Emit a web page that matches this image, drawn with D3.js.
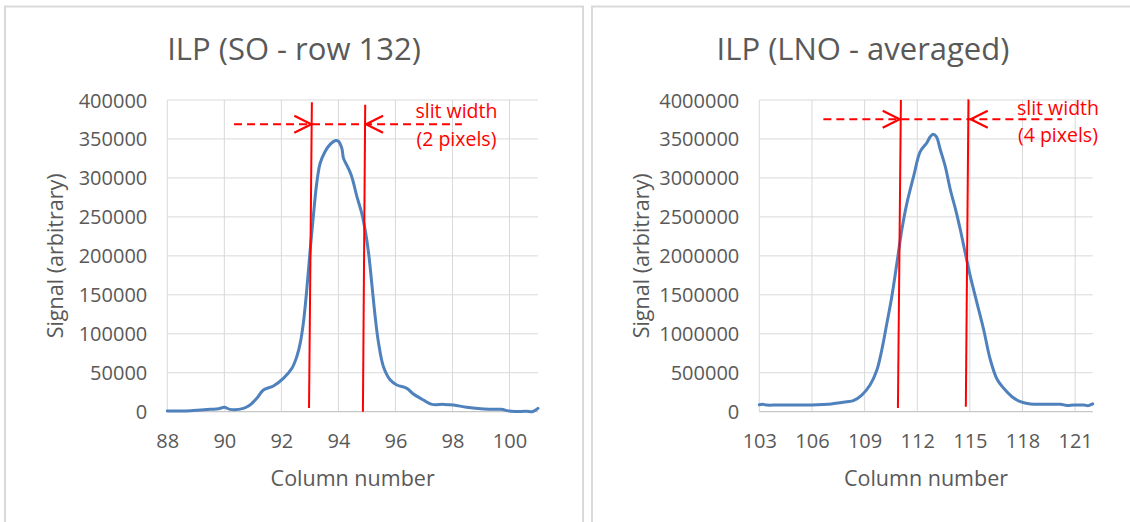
<!DOCTYPE html>
<html>
<head>
<meta charset="utf-8">
<script src="https://cdn.jsdelivr.net/npm/d3@7"></script>
<style>
  html, body { margin: 0; padding: 0; background: #fff; }
  svg { display: block; }
  text { font-family: "Open Sans", sans-serif; }
</style>
</head>
<body>
<svg id="chart" width="1130" height="522"></svg>
<script>
// ---------------- Data ----------------
// Left chart: SO - row 132
const soTitle = "ILP (SO - row 132)";
const soColumn = [88.0, 88.5, 88.9, 89.5, 89.8, 90.0, 90.2, 90.67, 90.9, 91.14, 91.37, 91.72, 92.07, 92.37, 92.54, 92.66, 92.77, 92.89, 93.01, 93.12, 93.24, 93.36, 93.53, 93.71, 93.88, 94.0, 94.12, 94.18, 94.35, 94.47, 94.65, 94.82, 94.94, 95.06, 95.17, 95.29, 95.41, 95.58, 95.82, 96.05, 96.4, 96.63, 96.98, 97.28, 97.69, 98.04, 98.5, 99.1, 99.7, 100.05, 100.6, 100.8, 101.0];
const soSignal = [1000, 800, 1500, 3000, 3800, 5600, 3000, 4300, 8600, 17200, 27800, 33000, 42800, 55700, 70600, 87700, 113400, 156200, 207500, 250200, 293100, 318800, 333600, 343100, 347800, 347000, 338000, 325100, 312300, 301500, 275900, 254600, 233100, 203200, 164800, 121900, 87700, 57700, 40700, 34300, 30000, 22700, 15000, 9400, 9400, 8600, 5600, 3400, 3000, 500, 500, 0, 4300];
const soXTicks = [88, 90, 92, 94, 96, 98, 100];
const soYTicks = [0, 50000, 100000, 150000, 200000, 250000, 300000, 350000, 400000];
const soSlitTop = [93.07, 94.94];      // column of slit lines at the top
const soSlitBottom = [92.97, 94.86];   // column of slit lines at the bottom
const soSlitLabel = ["slit width", "(2 pixels)"];

// Right chart: LNO - averaged
const lnoTitle = "ILP (LNO - averaged)";
const lnoColumn = [103.0, 103.2, 103.4, 104.0, 105.1, 106.0, 106.65, 107.1, 107.6, 108.0, 108.36, 108.84, 109.31, 109.7, 109.98, 110.27, 110.55, 110.84, 111.12, 111.41, 111.79, 112.17, 112.55, 112.74, 112.9, 113.09, 113.32, 113.6, 113.89, 114.17, 114.46, 114.74, 115.03, 115.41, 115.79, 116.17, 116.55, 116.93, 117.4, 117.88, 118.45, 119.4, 120.16, 120.54, 120.92, 121.5, 121.75, 122.0];
const lnoSignal = [90000, 95000, 86000, 85000, 85000, 85000, 92000, 100000, 115000, 128000, 141000, 214000, 342600, 535000, 791800, 1134000, 1475800, 1904000, 2331800, 2674000, 3015800, 3336600, 3452000, 3529000, 3560000, 3529000, 3358000, 3144000, 2845000, 2610000, 2331800, 2032700, 1732500, 1391000, 1048500, 663500, 415800, 300300, 192500, 128300, 98800, 95000, 95000, 80000, 86000, 86000, 78000, 100000];
const lnoXTicks = [103, 106, 109, 112, 115, 118, 121];
const lnoYTicks = [0, 500000, 1000000, 1500000, 2000000, 2500000, 3000000, 3500000, 4000000];
const lnoSlitTop = [111.07, 114.92];
const lnoSlitBottom = [110.9, 114.77];
const lnoSlitLabel = ["slit width", "(4 pixels)"];

const xAxisTitle = "Column number";
const yAxisTitle = "Signal (arbitrary)";

// ---------------- Drawing ----------------
const svg = d3.select("#chart");
const TEXT = "#595959", GRID = "#d9d9d9", BLUE = "#4f81bd", RED = "#ff0000";

function drawChart(cfg) {
  const g = svg.append("g");
  // panel border
  g.append("rect")
    .attr("x", cfg.panel[0]).attr("y", 6.5)
    .attr("width", cfg.panel[1] - cfg.panel[0]).attr("height", 540)
    .attr("fill", "#fff").attr("stroke", "#d9d9d9").attr("stroke-width", 2);

  const x = d3.scaleLinear().domain(cfg.xDomain).range([cfg.plot[0], cfg.plot[1]]);
  const y = d3.scaleLinear().domain(cfg.yDomain).range([411.7, 100]);

  // title
  g.append("text")
    .attr("x", (cfg.panel[0] + cfg.panel[1]) / 2).attr("y", 60)
    .attr("text-anchor", "middle").attr("fill", TEXT)
    .style("font-size", "31px").text(cfg.title);

  // horizontal gridlines
  g.append("g").selectAll("line").data(cfg.yTicks.filter(d => d > 0)).join("line")
    .attr("x1", x(cfg.xDomain[0])).attr("x2", x(cfg.xDomain[1]))
    .attr("y1", d => y(d)).attr("y2", d => y(d))
    .attr("stroke", GRID).attr("stroke-width", 1);
  // vertical gridlines
  g.append("g").selectAll("line").data(cfg.xTicks).join("line")
    .attr("x1", d => x(d)).attr("x2", d => x(d))
    .attr("y1", y(cfg.yDomain[1])).attr("y2", y(0))
    .attr("stroke", GRID).attr("stroke-width", 1);
  // bottom axis line
  g.append("line")
    .attr("x1", x(cfg.xDomain[0])).attr("x2", x(cfg.xDomain[1]))
    .attr("y1", y(0)).attr("y2", y(0))
    .attr("stroke", "#c6c6c6").attr("stroke-width", 1.2);

  // y tick labels
  const yAxis = d3.axisLeft(y).tickValues(cfg.yTicks).tickSize(0).tickPadding(20).tickFormat(d3.format("d"));
  const ya = g.append("g").attr("transform", `translate(${x(cfg.xDomain[0])},0)`).call(yAxis);
  ya.select(".domain").remove();
  ya.selectAll("text").attr("fill", TEXT).style("font-size", "20px")
    .style("font-family", "'Open Sans', sans-serif").attr("dy", "0.35em");

  // x tick labels
  const xAxis = d3.axisBottom(x).tickValues(cfg.xTicks).tickSize(0).tickPadding(0).tickFormat(d3.format("d"));
  const xa = g.append("g").attr("transform", `translate(0,${y(0)})`).call(xAxis);
  xa.select(".domain").remove();
  xa.selectAll("text").attr("fill", TEXT).style("font-size", "20px")
    .style("font-family", "'Open Sans', sans-serif").attr("dy", null).attr("y", 36.8);

  // axis titles
  g.append("text")
    .attr("x", (cfg.plot[0] + cfg.plot[1]) / 2).attr("y", 486)
    .attr("text-anchor", "middle").attr("fill", TEXT)
    .style("font-size", "21.5px").text(xAxisTitle);
  g.append("text")
    .attr("transform", `translate(${cfg.yTitleX},${(y(0) + y(cfg.yDomain[1])) / 2}) rotate(-90)`)
    .attr("text-anchor", "middle").attr("dy", "0.35em").attr("fill", TEXT)
    .style("font-size", "21.5px").text(yAxisTitle);

  // data line
  const pts = cfg.xs.map((d, i) => [d, cfg.ys[i]]);
  g.append("path").datum(pts)
    .attr("fill", "none").attr("stroke", BLUE).attr("stroke-width", 3)
    .attr("stroke-linejoin", "round").attr("stroke-linecap", "round")
    .attr("d", d3.line().x(d => x(d[0])).y(d => y(d[1])).curve(d3.curveCatmullRom.alpha(0.5)));

  // slit lines
  cfg.slitTop.forEach((xt, i) => {
    g.append("line")
      .attr("x1", x(xt)).attr("y1", y(cfg.slitTopY[i]))
      .attr("x2", x(cfg.slitBottom[i])).attr("y2", y(cfg.slitBottomY[i]))
      .attr("stroke", RED).attr("stroke-width", 2);
  });

  // dashed arrow line
  const ay = y(cfg.arrowY);
  g.append("line")
    .attr("x1", x(cfg.arrowX[0])).attr("x2", x(cfg.arrowX[1]))
    .attr("y1", ay).attr("y2", ay)
    .attr("stroke", RED).attr("stroke-width", 2).attr("stroke-dasharray", "8,5");
  // arrowheads (open chevrons)
  const tipL = x(cfg.arrowTips[0]), tipR = x(cfg.arrowTips[1]);
  g.append("path")
    .attr("d", `M${tipL - 17},${ay - 8.5} L${tipL},${ay} L${tipL - 17},${ay + 8.5}`)
    .attr("fill", "none").attr("stroke", RED).attr("stroke-width", 2.2);
  g.append("path")
    .attr("d", `M${tipR + 17},${ay - 8.5} L${tipR},${ay} L${tipR + 17},${ay + 8.5}`)
    .attr("fill", "none").attr("stroke", RED).attr("stroke-width", 2.2);

  // slit label
  cfg.label.forEach((t, i) => {
    g.append("text")
      .attr("x", x(cfg.labelX)).attr("y", cfg.labelY[i])
      .attr("text-anchor", "middle").attr("fill", RED)
      .style("font-size", "19.5px").text(t);
  });
}

drawChart({
  panel: [5, 583], plot: [167.3, 538],
  xDomain: [88, 101], yDomain: [0, 400000],
  xTicks: soXTicks, yTicks: soYTicks,
  xs: soColumn, ys: soSignal, title: soTitle, yTitleX: 55,
  slitTop: soSlitTop, slitBottom: soSlitBottom,
  slitTopY: [397000, 394000], slitBottomY: [4700, 0],
  arrowY: 368800, arrowX: [90.34, 98.33], arrowTips: [93.05, 94.97],
  label: soSlitLabel, labelX: 98.14, labelY: [118, 146]
});

drawChart({
  panel: [592, 1134], plot: [759.3, 1092.7],
  xDomain: [103, 122], yDomain: [0, 4000000],
  xTicks: lnoXTicks, yTicks: lnoYTicks,
  xs: lnoColumn, ys: lnoSignal, title: lnoTitle, yTitleX: 641,
  slitTop: lnoSlitTop, slitBottom: lnoSlitBottom,
  slitTopY: [4000000, 4008000], slitBottomY: [47000, 64000],
  arrowY: 3752000, arrowX: [106.65, 120.25], arrowTips: [111.0, 115.05],
  label: lnoSlitLabel, labelX: 120.02, labelY: [115, 142]
});
</script>
</body>
</html>
